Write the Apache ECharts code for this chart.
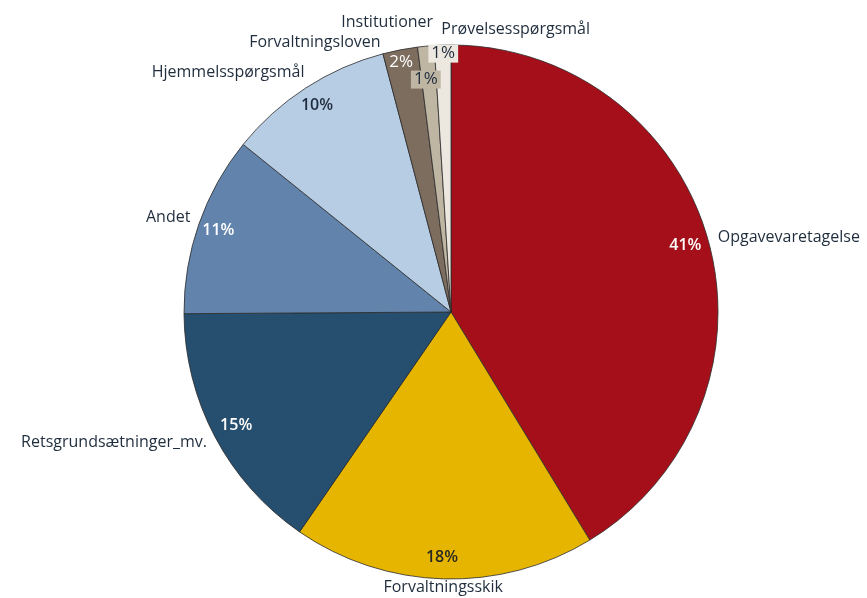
<!DOCTYPE html>
<html>
<head>
<meta charset="utf-8">
<script src="https://cdn.jsdelivr.net/npm/echarts@6/dist/echarts.min.js"></script>
<style>
  html, body { margin: 0; padding: 0; background: #ffffff; }
  #chart { width: 867px; height: 598px; }
</style>
</head>
<body>
<div id="chart"></div>
<script>
// Fordeling af sager efter emne (procent)
const categories = [
  'Opgavevaretagelse',
  'Forvaltningsskik',
  'Retsgrundsætninger_mv.',
  'Andet',
  'Hjemmelsspørgsmål',
  'Forvaltningsloven',
  'Institutioner',
  'Prøvelsesspørgsmål'
];
const values = [41.3, 18.3, 15.3, 10.9, 10.1, 2.1, 1.0, 1.0];
const colors = ['#A50F1A', '#E6B500', '#264E6E', '#6283AB', '#B7CDE4', '#7D6D5F', '#BEB5A3', '#ECE8DF'];
const pctColors = ['#ffffff', '#2A2A22', '#ffffff', '#ffffff', '#1F2D3D', '#ffffff', '#1F2D3D', '#1F2D3D'];

const FONT = '"Open Sans", "Noto Sans", sans-serif';
const center = [451, 312];
const R = 267;

// small nudges for the crowded labels
const nameShift = {
  0: { dx: -3 },
  1: { align: 'center', dx: 5, dy: 1 },
  2: { dx: 4, dy: 2 },
  3: { dx: 4, dy: -4 },
  4: { dx: 8, dy: -9 },
  5: { dx: -13, dy: 0 },
  6: { dx: 13, dy: -16 },
  7: { align: 'left', dx: 4, dy: -8 }
};
const pctShift = {
  0: { dx: -3 },
  1: { dx: -2, dy: -1 },
  2: { dx: 3, dy: -2 },
  5: { dy: -8, dx: -3 },
  6: { dy: 13, dx: -2 },
  7: { dy: -12 }
};

const mainData = categories.map((c, i) => ({
  name: c,
  value: values[i],
  itemStyle: { color: colors[i] }
}));

const pctData = categories.map((c, i) => ({
  name: c,
  value: values[i],
  label: i >= 5 ? {
    color: pctColors[i],
    fontSize: 17,
    fontWeight: 400,
    backgroundColor: i >= 6 ? colors[i] : 'transparent',
    padding: i >= 6 ? [1, 3, 0, 3] : 0
  } : { color: pctColors[i] }
}));

const chart = echarts.init(document.getElementById('chart'), null, { renderer: 'canvas' });
chart.setOption({
  backgroundColor: '#ffffff',
  animation: false,
  series: [
    {
      type: 'pie',
      center: center,
      radius: [0, R],
      startAngle: 90,
      clockwise: true,
      avoidLabelOverlap: false,
      itemStyle: { borderColor: '#2b2b2b', borderWidth: 0.8 },
      label: {
        show: true,
        position: 'outside',
        formatter: '{b}',
        color: '#1F2D3D',
        fontFamily: FONT,
        fontSize: 16
      },
      labelLine: { show: false, length: 8, length2: 0 },
      labelLayout: function (p) {
        return nameShift[p.dataIndex] || {};
      },
      emphasis: { disabled: true },
      data: mainData
    },
    {
      type: 'pie',
      center: center,
      radius: [R - 46, R - 1],
      startAngle: 90,
      clockwise: true,
      avoidLabelOverlap: false,
      silent: true,
      itemStyle: { color: 'transparent', borderWidth: 0 },
      label: {
        show: true,
        position: 'inner',
        formatter: function (p) { return Math.round(p.percent) + '%'; },
        fontFamily: FONT,
        fontSize: 16,
        fontWeight: 600
      },
      labelLine: { show: false },
      labelLayout: function (p) {
        return pctShift[p.dataIndex] || {};
      },
      emphasis: { disabled: true },
      data: pctData
    }
  ]
});
</script>
</body>
</html>
